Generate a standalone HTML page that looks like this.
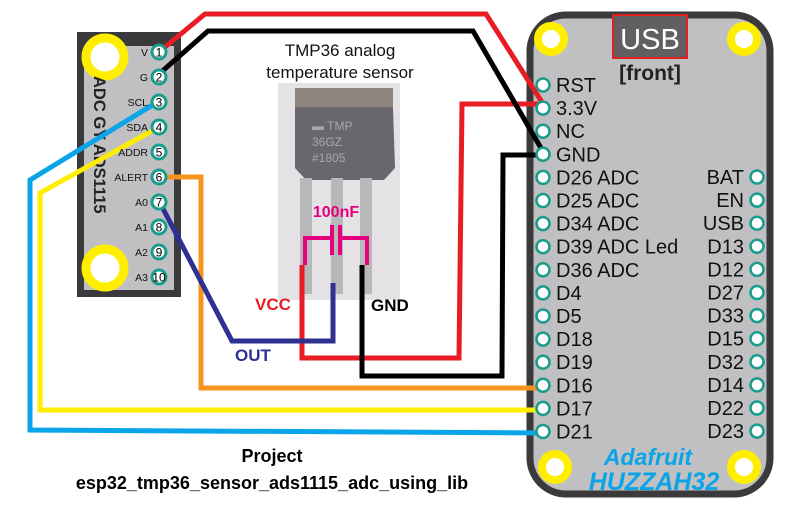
<!DOCTYPE html>
<html><head><meta charset="utf-8"><style>
html,body{margin:0;padding:0;background:#fff;width:786px;height:515px;overflow:hidden}
text{font-family:"Liberation Sans","DejaVu Sans",sans-serif}
</style></head><body>
<svg width="786" height="515" viewBox="0 0 786 515">
<g>
<rect x="77" y="32" width="104" height="265" fill="#3a3a3c"/>
<rect x="84" y="46" width="90" height="244" fill="#c0c0c2"/>
<circle cx="105" cy="57" r="19" fill="#fff" stroke="#ffee00" stroke-width="9"/>
<circle cx="105" cy="268" r="19" fill="#fff" stroke="#ffee00" stroke-width="9"/>
<text transform="translate(94,76) rotate(90)" font-size="16.5" font-weight="bold" fill="#222">ADC GY ADS1115</text>
</g>
<g>
<rect x="278" y="83" width="122" height="217" fill="#e4e2e5"/>
<path d="M295 107 L393 107 L395 168 L384 180 L306 180 L295 168 Z" fill="#68686c"/>
<rect x="295" y="88" width="98" height="19" fill="#8f8580"/>
<text x="312" y="130" font-size="12" fill="#a8a8aa">▬ TMP</text>
<text x="312" y="146" font-size="12" fill="#a8a8aa">36GZ</text>
<text x="312" y="162" font-size="12" fill="#a8a8aa">#1805</text>
<rect x="300" y="178" width="12" height="116" fill="#b8b8ba"/>
<rect x="331" y="178" width="12" height="116" fill="#b8b8ba"/>
<rect x="360" y="178" width="12" height="116" fill="#b8b8ba"/>
<path d="M305 265 V238 H332 M340 238 H367 V265 M332 225 V255 M340 225 V255" fill="none" stroke="#e6007e" stroke-width="4"/>
<text x="336" y="217" font-size="16" font-weight="bold" fill="#e6007e" text-anchor="middle">100nF</text>
</g>
<text x="340" y="56" font-size="17" text-anchor="middle" fill="#111">TMP36 analog</text>
<text x="340" y="78" font-size="17" text-anchor="middle" fill="#111">temperature sensor</text>
<g>
<rect x="530" y="15" width="240" height="479" rx="36" fill="#c0c0c2" stroke="#3a3a3c" stroke-width="7"/>
<rect x="613" y="15" width="74" height="43" fill="#606062" stroke="#e02020" stroke-width="2"/>
<text x="650" y="49" font-size="29" fill="#fff" text-anchor="middle">USB</text>
<text x="650" y="80" font-size="21" font-weight="bold" fill="#222" text-anchor="middle">[front]</text>
<circle cx="551" cy="39" r="13" fill="#fff" stroke="#ffee00" stroke-width="8"/>
<circle cx="744" cy="39" r="13" fill="#fff" stroke="#ffee00" stroke-width="8"/>
<circle cx="555" cy="467" r="13" fill="#fff" stroke="#ffee00" stroke-width="8"/>
<circle cx="744" cy="467" r="13" fill="#fff" stroke="#ffee00" stroke-width="8"/>
<text x="648" y="465" font-size="23" font-weight="bold" font-style="italic" fill="#0aa4e8" text-anchor="middle">Adafruit</text>
<text x="654" y="490" font-size="25" font-weight="bold" font-style="italic" fill="#0aa4e8" text-anchor="middle">HUZZAH32</text>
</g>
<g fill="none" stroke-width="5" stroke-linejoin="miter">
<polyline points="159,52 205,14 486,14 545,107" stroke="#e81c24"/>
<polyline points="302,265 302,358 459,358 462,104 543,104" stroke="#e81c24"/>
<polyline points="159,74 208,31 473,31 545,155" stroke="#000"/>
<polyline points="362,265 362,376 502,376 503,155 543,155" stroke="#000"/>
<polyline points="159,101 30,180 30,430 543,433" stroke="#0aa4e8"/>
<polyline points="159,127 40,193 40,410 543,410" stroke="#ffee00"/>
<polyline points="159,177 201,177 201,388 543,388" stroke="#f7941d"/>
<polyline points="159,201 232,341 333,341 333,283" stroke="#2e3192"/>
</g>
<text x="255" y="310" font-size="17" font-weight="bold" fill="#e81c24">VCC</text>
<text x="371" y="311" font-size="17" font-weight="bold" fill="#000">GND</text>
<text x="235" y="361" font-size="17" font-weight="bold" fill="#2e3192">OUT</text>
<text x="272" y="462" font-size="18" font-weight="bold" text-anchor="middle" fill="#000">Project</text>
<text x="272" y="489" font-size="18" font-weight="bold" text-anchor="middle" fill="#000">esp32_tmp36_sensor_ads1115_adc_using_lib</text>
<g id="pins"></g>
</svg>
<script>
const adcLabels=["V","G","SCL","SDA","ADDR","ALERT","A0","A1","A2","A3"];
const leftLabels=["RST","3.3V","NC","GND","D26 ADC","D25 ADC","D34 ADC","D39 ADC Led","D36 ADC","D4","D5","D18","D19","D16","D17","D21"];
const rightLabels=["BAT","EN","USB","D13","D12","D27","D33","D15","D32","D14","D22","D23"];
const NS="http://www.w3.org/2000/svg";
const g=document.getElementById('pins');
function mk(t,a){const e=document.createElementNS(NS,t);for(const k in a)e.setAttribute(k,a[k]);g.appendChild(e);return e;}
adcLabels.forEach((l,i)=>{
  const y=52+i*25;
  const c=mk('circle',{cx:159,cy:y,r:7,fill:'#fff',stroke:'#1a9c8c','stroke-width':3});
  
  
  const n=mk('text',{x:159,y:y+4.5,'font-size':12,'text-anchor':'middle',fill:'#000'});n.textContent=i+1;
  
  
  const t=mk('text',{x:148,y:y+4,'font-size':10.5,'text-anchor':'end',fill:'#111'});t.textContent=l;
  
  
});
leftLabels.forEach((l,i)=>{
  const y=85+i*23.1;
  const c=mk('circle',{cx:543,cy:y,r:6.5,fill:'#fff',stroke:'#1a9c8c','stroke-width':2.5});
  
  
  const t=mk('text',{x:556,y:y+7,'font-size':20,fill:'#111'});t.textContent=l;
  
  
});
rightLabels.forEach((l,i)=>{
  const y=177+i*23.1;
  const c=mk('circle',{cx:757,cy:y,r:6.5,fill:'#fff',stroke:'#1a9c8c','stroke-width':2.5});
  
  
  const t=mk('text',{x:744,y:y+7,'font-size':20,'text-anchor':'end',fill:'#111'});t.textContent=l;
  
  
});
</script>
</body></html>
